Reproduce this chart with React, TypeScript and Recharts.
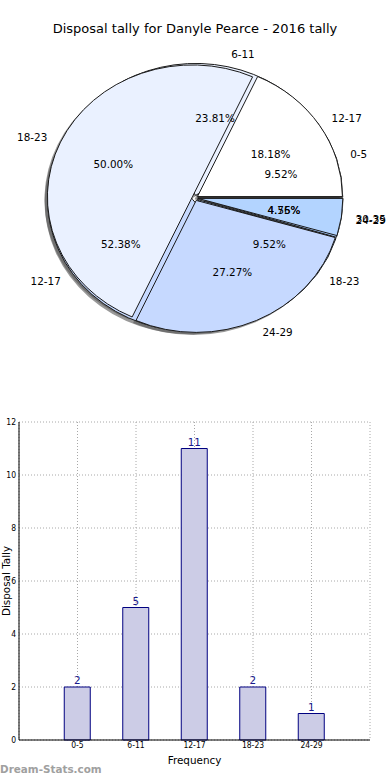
import { Bar, BarChart, CartesianGrid, LabelList, Pie, PieChart, XAxis, YAxis } from "recharts";

const chartTitle = "Disposal tally for Danyle Pearce - 2016 tally";
const bands = ["0-5", "6-11", "12-17", "18-23", "24-29"];
const tally = [2, 5, 11, 2, 1];
const prevBands = ["12-17", "18-23", "24-29", "30-35"];
const prevTally = [4, 11, 6, 1];
const yTicks = [0, 2, 4, 6, 8, 10, 12];

const palette = ["#ffffff", "#eaf1ff", "#c6d9ff", "#b3d4ff", "#a6cbff"];
const FONT = '"DejaVu Sans", sans-serif';
const SQUASH = 132 / 145; // matplotlib pie without axis('equal') comes out as an ellipse
const EXPLODE = 0.02;
const RAD = Math.PI / 180;

const thisYear = bands.map((name, i) => ({ name, value: tally[i], fill: palette[i] }));
const lastYear = prevBands.map((name, i) => ({ name, value: prevTally[i], fill: palette[i] }));
const barData = bands.map((band, i) => ({ pos: i, band, tally: tally[i] }));

function wedgeShape(mode: "fill" | "shadow" | "none") {
  return (p: any) => {
    if (mode === "none") return <g />;
    const { cx, cy, outerRadius: rx, startAngle, endAngle, fill } = p;
    const ry = rx * SQUASH;
    const mid = ((startAngle + endAngle) / 2) * RAD;
    const sx = mode === "shadow" ? -0.02 * rx : 0;
    const sy = mode === "shadow" ? 0.02 * ry : 0;
    const ox = cx + EXPLODE * rx * Math.cos(mid) + sx;
    const oy = cy - EXPLODE * ry * Math.sin(mid) + sy;
    const x1 = ox + rx * Math.cos(startAngle * RAD);
    const y1 = oy - ry * Math.sin(startAngle * RAD);
    const x2 = ox + rx * Math.cos(endAngle * RAD);
    const y2 = oy - ry * Math.sin(endAngle * RAD);
    const large = Math.abs(endAngle - startAngle) > 180 ? 1 : 0;
    const d = `M${ox},${oy}L${x1},${y1}A${rx},${ry} 0 ${large} 0 ${x2},${y2}Z`;
    if (mode === "shadow") return <path d={d} fill="#555" fillOpacity={0.6} stroke="none" />;
    return <path d={d} fill={fill} stroke="#1a1a1a" strokeWidth={1} strokeLinejoin="round" />;
  };
}

function pieLabel(p: any) {
  const { cx, cy, midAngle, outerRadius: rx, percent, name } = p;
  const ry = rx * SQUASH;
  const m = midAngle * RAD;
  const ox = cx + EXPLODE * rx * Math.cos(m);
  const oy = cy - EXPLODE * ry * Math.sin(m);
  const style = { fontFamily: FONT, fontSize: 10.4, fill: "#000" };
  return (
    <g>
      <text
        x={ox + 1.1 * rx * Math.cos(m)}
        y={oy - 1.1 * ry * Math.sin(m)}
        textAnchor={Math.cos(m) > 0 ? "start" : "end"}
        dominantBaseline="central"
        style={style}
      >
        {name}
      </text>
      <text
        x={ox + 0.6 * rx * Math.cos(m)}
        y={oy - 0.6 * ry * Math.sin(m)}
        textAnchor="middle"
        dominantBaseline="central"
        style={style}
      >
        {(percent * 100).toFixed(2)}%
      </text>
    </g>
  );
}

const tickStyle = { fontFamily: '"DejaVu Sans Condensed", "DejaVu Sans", sans-serif', fontSize: 8.5, fill: "#000" };

function yLabel(p: any) {
  const vb = p.viewBox;
  const x = vb.x + 7;
  const y = vb.y + vb.height / 2;
  return (
    <text x={x} y={y} transform={`rotate(-90 ${x} ${y})`} textAnchor="middle" style={{ fontFamily: FONT, fontSize: 10.4 }}>
      Disposal Tally
    </text>
  );
}

function xLabel(p: any) {
  const vb = p.viewBox;
  return (
    <text x={vb.x + vb.width / 2} y={vb.y + 20} textAnchor="middle" dominantBaseline="central" style={{ fontFamily: FONT, fontSize: 10.4 }}>
      Frequency
    </text>
  );
}

export default function App() {
  const pieCommon = {
    dataKey: "value",
    nameKey: "name",
    cx: 195,
    cy: 198,
    outerRadius: 145,
    startAngle: 0,
    endAngle: 360,
    stroke: "none",
    labelLine: false,
    isAnimationActive: false,
  };
  return (
    <div style={{ position: "absolute", left: 0, top: 0, width: 390, height: 780, background: "#fff" }}>
      <div
        style={{
          position: "absolute",
          top: 21,
          width: 390,
          textAlign: "center",
          fontFamily: FONT,
          fontSize: 13,
          color: "#000",
        }}
      >
        {chartTitle}
      </div>
      <div style={{ position: "absolute", left: 0, top: 0 }}>
        <PieChart width={390} height={350} margin={{ top: 0, right: 0, bottom: 0, left: 0 }}>
          <Pie {...pieCommon} data={thisYear} shape={wedgeShape("shadow")} label={false} />
          <Pie {...pieCommon} data={lastYear} shape={wedgeShape("shadow")} label={false} />
          <Pie {...pieCommon} data={thisYear} shape={wedgeShape("fill")} label={false} />
          <Pie {...pieCommon} data={lastYear} shape={wedgeShape("fill")} label={false} />
          <Pie {...pieCommon} data={thisYear} shape={wedgeShape("none")} label={pieLabel} />
          <Pie {...pieCommon} data={lastYear} shape={wedgeShape("none")} label={pieLabel} />
        </PieChart>
      </div>
      <div style={{ position: "absolute", left: 0, top: 400 }}>
        <BarChart width={390} height={380} data={barData} margin={{ top: 22, right: 20, bottom: 0, left: 3 }}>
          <CartesianGrid stroke="#a8a8a8" strokeDasharray="1 2" />
          <XAxis
            dataKey="pos"
            type="number"
            domain={[-1, 5]}
            ticks={[0, 1, 2, 3, 4]}
            interval={0}
            tickFormatter={(v: number) => bands[v]}
            height={40}
            axisLine={{ stroke: "#000" }}
            tickLine={false}
            tickSize={2}
            tickMargin={0}
            tick={tickStyle}
            label={xLabel}
          />
          <XAxis
            xAxisId="top"
            orientation="top"
            dataKey="pos"
            type="number"
            domain={[-1, 5]}
            height={0}
            tick={false}
            tickLine={false}
            axisLine={{ stroke: "#000" }}
          />
          <YAxis
            type="number"
            domain={[0, 12]}
            ticks={yTicks}
            interval={0}
            width={16}
            axisLine={{ stroke: "#000" }}
            tickLine={false}
            tickSize={3}
            tickMargin={0}
            tick={tickStyle}
            label={yLabel}
          />
          <YAxis
            yAxisId="right"
            orientation="right"
            domain={[0, 12]}
            width={0}
            tick={false}
            tickLine={false}
            axisLine={{ stroke: "#000" }}
          />
          <Bar dataKey="tally" barSize={26} fill="#ccccE6" stroke="#000080" strokeWidth={1} isAnimationActive={false}>
            <LabelList
              dataKey="tally"
              position="top"
              offset={3}
              fill="#1a1a8c"
              style={{ fontFamily: FONT, fontSize: 10.4 }}
            />
          </Bar>
        </BarChart>
      </div>
      <div
        style={{
          position: "absolute",
          left: 0,
          top: 763,
          fontFamily: FONT,
          fontWeight: "bold",
          fontSize: 10.4,
          color: "#a0a0a0",
        }}
      >
        Dream-Stats.com
      </div>
    </div>
  );
}
